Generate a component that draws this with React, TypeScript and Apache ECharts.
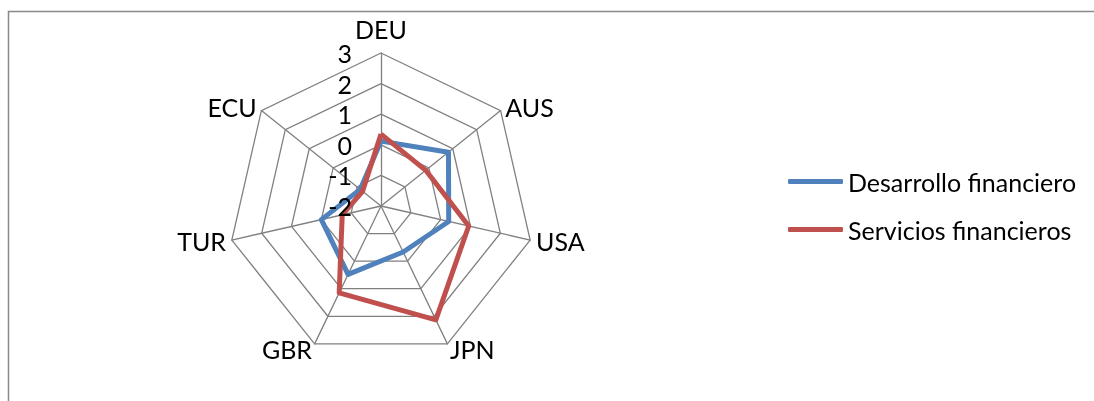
import React, { useEffect, useRef } from 'react';
import * as echarts from 'echarts';

const categories = ['DEU', 'AUS', 'USA', 'JPN', 'GBR', 'TUR', 'ECU'];
const seriesNames = ['Desarrollo financiero', 'Servicios financieros'];
const desarrollo = [0.12, 0.82, 0.27, -0.33, 0.48, 0.0, -1.13];
const servicios = [0.35, -0.13, 0.94, 2.13, 1.15, -0.7, -1.23];
const ticks = [-2, -1, 0, 1, 2, 3];
const colors = ['#4F81BD', '#C0504D'];

// ECharts lays radar indicators out counter-clockwise; Excel goes clockwise.
const order = [0, 6, 5, 4, 3, 2, 1];

export default function App() {
  const ref = useRef<HTMLDivElement>(null);
  useEffect(() => {
    document.body.style.margin = '0';
    const chart = echarts.init(ref.current!, null, { renderer: 'svg' });
    const font = 'Lato';
    const fs = 25;
    const values = [desarrollo, servicios];
    const baseRadar = {
      center: [381, 206],
      radius: 153,
      startAngle: 90,
      shape: 'polygon',
      splitNumber: ticks.length - 1,
      nameGap: 6,
    };
    chart.setOption({
      animation: false,
      textStyle: { fontFamily: font },
      graphic: [
        {
          type: 'polyline',
          silent: true,
          shape: { points: [[8.5, 401], [8.5, 11.5], [1094, 11.5]] },
          style: { fill: 'none', stroke: '#898989', lineWidth: 1.5 },
        },
      ],
      legend: {
        orient: 'vertical',
        left: 783,
        top: 164,
        itemWidth: 55,
        itemHeight: 5,
        itemGap: 23,
        icon: 'roundRect',
        textStyle: { fontSize: fs, color: '#000', fontFamily: font },
        data: seriesNames,
      },
      radar: [
        {
          ...baseRadar,
          z: 1,
          axisName: { color: '#000', fontSize: fs, fontFamily: font },
          axisLine: { lineStyle: { color: '#808080', width: 1.3 } },
          splitLine: { lineStyle: { color: '#808080', width: 1.3 } },
          splitArea: { show: false },
          axisTick: { show: false },
          axisLabel: { show: false },
          indicator: order.map((k, i) => ({
            name: categories[k],
            min: ticks[0],
            max: ticks[ticks.length - 1],
            ...(i === 0 ? { nameGap: 12 } : {}),
          })),
        },
        {
          ...baseRadar,
          z: 5,
          axisName: { show: false },
          axisLine: { show: false },
          splitLine: { show: false },
          splitArea: { show: false },
          axisTick: { show: false },
          axisLabel: { show: false },
          indicator: order.map((k, i) => ({
            name: categories[k],
            min: ticks[0],
            max: ticks[ticks.length - 1],
            ...(i === 0
              ? {
                  axisLabel: {
                    show: true,
                    color: '#000',
                    fontSize: fs,
                    fontFamily: font,
                    margin: 29,
                    align: 'right',
                  },
                }
              : {}),
          })),
        },
      ],
      series: [
        {
          type: 'radar',
          radarIndex: 0,
          z: 3,
          symbol: 'none',
          data: seriesNames.map((name, s) => ({
            name,
            value: order.map((k) => values[s][k]),
            lineStyle: { color: colors[s], width: 5 },
            itemStyle: { color: colors[s] },
          })),
        },
      ],
    });
    return () => chart.dispose();
  }, []);
  return (
    <div
      ref={ref}
      style={{ position: 'fixed', left: 0, top: 0, width: 1094, height: 401 }}
    />
  );
}
